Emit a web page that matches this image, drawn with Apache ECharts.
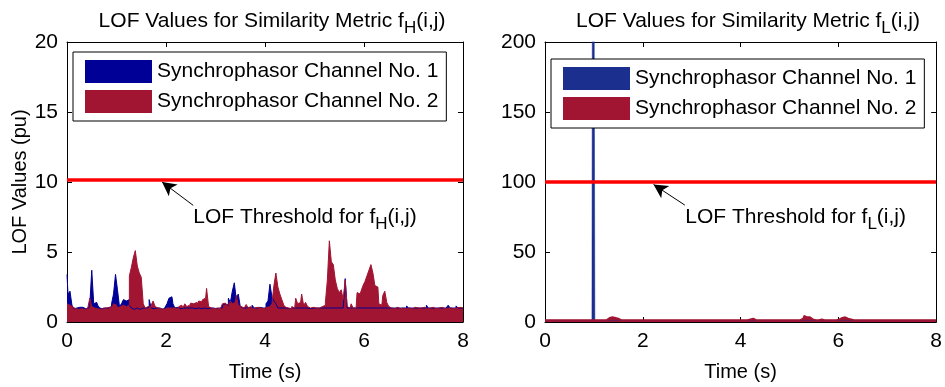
<!DOCTYPE html>
<html>
<head>
<meta charset="utf-8">
<script src="https://cdn.jsdelivr.net/npm/echarts@6/dist/echarts.min.js"></script>
<style>
  html, body { margin: 0; padding: 0; background: #fff; }
  #chart { width: 945px; height: 387px; }
</style>
</head>
<body>
<div id="chart"></div>
<script>
// Sampling instants of the LOF series (s), one value every 0.04 s from 0 to 8 s
const sampleStep = 0.04;
const sampleCount = 201;

// LOF values for similarity metric f_H(i,j)
const lofH_ch1 = [
  3.4, 2.0, 2.2, 1.2, 0.95, 1.0, 1.05, 1.0, 1.05, 0.95,
  1.05, 1.0, 1.2, 3.7, 1.3, 1.4, 1.2, 1.0, 0.95, 1.0,
  0.95, 1.0, 1.1, 1.3, 2.0, 3.4, 2.3, 1.1, 1.3, 1.6,
  1.5, 1.6, 1.2, 1.0, 0.9, 1.0, 0.95, 0.9, 1.0, 0.95,
  1.0, 1.05, 1.6, 1.0, 0.95, 1.0, 0.95, 1.0, 0.9, 0.95,
  1.05, 1.3, 1.7, 1.8, 1.3, 1.0, 1.05, 0.95, 1.0, 1.0,
  1.0, 0.95, 1.0, 1.0, 1.0, 0.95, 1.0, 1.0, 0.95, 1.0,
  1.0, 0.95, 1.0, 1.0, 1.0, 0.95, 1.0, 1.0, 1.0, 1.2,
  1.3, 1.2, 1.7, 1.4, 2.2, 2.8, 1.6, 2.0, 1.1, 1.0,
  1.0, 1.0, 1.05, 1.0, 1.2, 1.0, 1.0, 1.05, 0.95, 1.0,
  1.0, 1.3, 1.5, 2.7, 1.8, 1.5, 1.3, 1.0, 1.0, 1.0,
  1.0, 1.0, 0.95, 1.0, 1.0, 1.0, 1.0, 1.0, 1.0, 1.0,
  1.0, 1.0, 1.0, 0.95, 1.0, 1.0, 1.0, 1.0, 1.0, 1.0,
  1.0, 1.0, 1.0, 1.0, 1.0, 1.0, 1.0, 1.0, 1.0, 1.0,
  1.0, 3.1, 1.0, 1.0, 1.0, 1.0, 1.0, 1.0, 1.0, 1.0,
  1.0, 1.0, 1.0, 1.0, 1.0, 1.0, 1.0, 1.0, 1.0, 1.0,
  1.0, 1.0, 1.0, 1.05, 1.0, 1.0, 1.0, 1.0, 1.0, 1.0,
  1.0, 1.0, 1.15, 1.0, 1.0, 1.0, 1.0, 1.0, 1.0, 1.0,
  1.0, 1.0, 1.2, 1.0, 1.0, 1.0, 1.0, 1.0, 1.0, 1.0,
  1.0, 1.0, 1.0, 1.2, 1.0, 1.0, 1.0, 1.15, 1.0, 1.0, 1.0
];
const lofH_ch2 = [
  1.3, 1.2, 1.1, 1.05, 0.95, 1.0, 0.9, 0.95, 1.0, 0.9,
  1.0, 0.95, 1.7, 1.1, 1.0, 0.95, 1.05, 0.9, 1.0, 0.95,
  1.0, 1.05, 0.95, 1.1, 1.3, 1.2, 1.0, 1.1, 1.2, 1.15,
  1.1, 1.2, 3.3, 3.9, 4.6, 5.1, 4.0, 3.5, 3.2, 1.3,
  1.0, 1.1, 1.05, 1.2, 1.5, 1.1, 1.0, 0.95, 1.0, 0.9,
  1.0, 0.95, 1.0, 1.0, 0.9, 1.0, 0.95, 1.1, 1.2, 1.0,
  1.3, 1.1, 1.2, 1.35, 1.3, 1.4, 1.2, 1.5, 1.45, 1.6,
  1.7, 2.4, 1.1, 1.0, 0.95, 1.0, 1.0, 0.95, 1.05, 1.3,
  1.35, 1.2, 1.3, 1.5, 1.3, 1.4, 1.9, 1.2, 1.1, 1.0,
  1.05, 1.25, 1.0, 1.1, 0.95, 1.0, 1.05, 1.0, 1.0, 0.95,
  1.0, 1.05, 1.1, 1.0, 1.3, 2.6, 3.5, 2.5, 2.0, 1.6,
  1.2, 1.05, 1.0, 0.95, 1.1, 1.0, 1.7, 1.3, 1.4, 2.0,
  1.2, 1.4, 1.1, 1.0, 1.05, 0.95, 1.0, 1.0, 0.95, 1.1,
  1.2, 1.4, 3.0, 5.8, 4.3, 4.1, 3.0, 2.4, 2.1, 2.3,
  1.6, 3.0, 1.1, 1.0, 1.3, 1.0, 1.0, 2.1, 2.0, 2.2,
  2.6, 2.9, 3.3, 3.7, 4.1, 3.5, 2.6, 2.5, 1.3, 1.2,
  1.9, 2.2, 1.4, 1.1, 1.0, 0.95, 1.0, 1.05, 0.95, 1.0,
  1.0, 0.95, 1.05, 1.0, 0.95, 1.0, 1.05, 1.0, 0.95, 1.0,
  1.05, 1.0, 0.95, 1.0, 1.0, 1.05, 0.95, 1.0, 1.0, 1.05,
  1.0, 0.95, 1.0, 1.05, 1.0, 0.95, 1.0, 1.0, 1.05, 1.0, 1.0
];

// LOF values for similarity metric f_L(i,j)
const lofL_ch1 = [
  1.2, 1.2, 1.2, 1.2, 1.2, 1.2, 1.2, 1.2, 1.2, 1.2,
  1.2, 1.2, 1.2, 1.2, 1.2, 1.2, 1.2, 1.2, 1.2, 1.2,
  1.2, 1.2, 1.2, 1.2, 1.2, 620, 1.2, 1.2, 1.2, 1.2,
  1.2, 1.2, 1.2, 1.2, 1.2, 1.2, 1.2, 1.2, 1.2, 1.2,
  1.2, 1.2, 1.2, 1.2, 1.2, 1.2, 1.2, 1.2, 1.2, 1.2,
  1.2, 1.2, 1.2, 1.2, 1.2, 1.2, 1.2, 1.2, 1.2, 1.2,
  1.2, 1.2, 1.2, 1.2, 1.2, 1.2, 1.2, 1.2, 1.2, 1.2,
  1.2, 1.2, 1.2, 1.2, 1.2, 1.2, 1.2, 1.2, 1.2, 1.2,
  1.2, 1.2, 1.2, 1.2, 1.2, 1.2, 1.2, 1.2, 1.2, 1.2,
  1.2, 1.2, 1.2, 1.2, 1.2, 1.2, 1.2, 1.2, 1.2, 1.2,
  1.2, 1.2, 1.2, 1.2, 1.2, 1.2, 1.2, 1.2, 1.2, 1.2,
  1.2, 1.2, 1.2, 1.2, 1.2, 1.2, 1.2, 1.2, 1.2, 1.2,
  1.2, 1.2, 1.2, 1.2, 1.2, 1.2, 1.2, 1.2, 1.2, 1.2,
  1.2, 1.2, 1.2, 1.2, 1.2, 1.2, 1.2, 1.2, 1.2, 1.2,
  1.2, 1.2, 1.2, 1.2, 1.2, 1.2, 1.2, 1.2, 1.2, 1.2,
  1.2, 1.2, 1.2, 1.2, 1.2, 1.2, 1.2, 1.2, 1.2, 1.2,
  1.2, 1.2, 1.2, 1.2, 1.2, 1.2, 1.2, 1.2, 1.2, 1.2,
  1.2, 1.2, 1.2, 1.2, 1.2, 1.2, 1.2, 1.2, 1.2, 1.2,
  1.2, 1.2, 1.2, 1.2, 1.2, 1.2, 1.2, 1.2, 1.2, 1.2,
  1.2, 1.2, 1.2, 1.2, 1.2, 1.2, 1.2, 1.2, 1.2, 1.2, 1.2
];
const lofL_ch2 = [
  1.5, 1.5, 1.5, 1.5, 1.5, 1.5, 1.5, 1.5, 1.5, 1.5,
  1.5, 1.5, 1.5, 1.5, 1.5, 1.5, 1.5, 1.5, 1.5, 1.5,
  1.5, 1.5, 1.5, 1.5, 1.5, 1.5, 1.5, 1.5, 1.5, 1.5,
  1.5, 1.5, 2.5, 3.0, 3.5, 4.0, 3.0, 2.5, 2.5, 1.5,
  1.5, 1.5, 1.5, 1.5, 1.5, 1.5, 1.5, 1.5, 1.5, 1.5,
  1.5, 1.5, 1.5, 1.5, 1.5, 1.5, 1.5, 1.5, 1.5, 1.5,
  1.5, 1.5, 1.5, 1.5, 1.5, 1.5, 1.5, 1.5, 1.5, 1.5,
  1.5, 1.5, 1.5, 1.5, 1.5, 1.5, 1.5, 1.5, 1.5, 1.5,
  1.5, 1.5, 1.5, 1.5, 1.5, 1.5, 1.5, 1.5, 1.5, 1.5,
  1.5, 1.5, 1.5, 1.5, 1.5, 1.5, 1.5, 1.5, 1.5, 1.5,
  1.5, 1.5, 1.5, 1.5, 1.5, 2.0, 2.5, 2.0, 1.5, 1.5,
  1.5, 1.5, 1.5, 1.5, 1.5, 1.5, 1.5, 1.5, 1.5, 1.5,
  1.5, 1.5, 1.5, 1.5, 1.5, 1.5, 1.5, 1.5, 1.5, 1.5,
  1.5, 1.5, 2.5, 4.5, 3.5, 3.5, 2.5, 2.0, 1.5, 1.5,
  1.5, 2.0, 1.5, 1.5, 1.5, 1.5, 1.5, 1.5, 1.5, 1.5,
  2.0, 2.5, 3.0, 3.5, 3.0, 2.5, 2.0, 2.0, 1.5, 1.5,
  1.5, 1.5, 1.5, 1.5, 1.5, 1.5, 1.5, 1.5, 1.5, 1.5,
  1.5, 1.5, 1.5, 1.5, 1.5, 1.5, 1.5, 1.5, 1.5, 1.5,
  1.5, 1.5, 1.5, 1.5, 1.5, 1.5, 1.5, 1.5, 1.5, 1.5,
  1.5, 1.5, 1.5, 1.5, 1.5, 1.5, 1.5, 1.5, 1.5, 1.5, 1.5
];

// Detection thresholds
const thresholdH = 10.15;
const thresholdL = 100;

// Axis ticks
const xTicks = { min: 0, max: 8, interval: 2 };
const yTicksH = { min: 0, max: 20, interval: 5 };
const yTicksL = { min: 0, max: 200, interval: 50 };

const channelNames = ['Synchrophasor Channel No. 1', 'Synchrophasor Channel No. 2'];

const time = Array.from({ length: sampleCount }, (_, i) => +(i * sampleStep).toFixed(2));
const pairs = (vals) => vals.map((v, i) => [time[i], v]);

const FONT = 'Liberation Sans, Arial, Helvetica, sans-serif';
const BLUE_H = '#000096';
const BLUE_L = '#1a2f8e';
const RED = '#a21532';

function frameAxes(gridIndex, isX) {
  const common = {
    gridIndex,
    axisLine: { show: true, onZero: false, lineStyle: { color: '#000', width: 1 } },
    axisTick: { show: true, inside: true, length: 5, lineStyle: { color: '#000' } },
    splitLine: { show: false },
    axisLabel: { show: false }
  };
  return isX
    ? Object.assign({ type: 'value', position: 'top' }, xTicks, common)
    : common;
}

function bottomAxis(gridIndex) {
  return Object.assign({
    type: 'value', gridIndex, position: 'bottom',
    name: 'Time (s)', nameLocation: 'middle', nameGap: 40,
    nameTextStyle: { fontFamily: FONT, fontSize: 20, color: '#000' },
    axisLine: { show: true, onZero: false, lineStyle: { color: '#000', width: 1 } },
    axisTick: { show: true, inside: true, length: 5, lineStyle: { color: '#000' } },
    splitLine: { show: false },
    axisLabel: { fontFamily: FONT, fontSize: 21, color: '#000', margin: 9 }
  }, xTicks);
}

function leftAxis(gridIndex, ticks, name) {
  return Object.assign({
    type: 'value', gridIndex, position: 'left',
    name: name || '', nameLocation: 'middle', nameGap: 37, nameRotate: 90,
    nameTextStyle: { fontFamily: FONT, fontSize: 20, color: '#000' },
    axisLine: { show: true, onZero: false, lineStyle: { color: '#000', width: 1 } },
    axisTick: { show: true, inside: true, length: 5, lineStyle: { color: '#000' } },
    splitLine: { show: false },
    axisLabel: { fontFamily: FONT, fontSize: 21, color: '#000', margin: 9 }
  }, ticks);
}

function rightAxis(gridIndex, ticks) {
  return Object.assign({
    type: 'value', gridIndex, position: 'right',
    axisLine: { show: true, onZero: false, lineStyle: { color: '#000', width: 1 } },
    axisTick: { show: true, inside: true, length: 5, lineStyle: { color: '#000' } },
    splitLine: { show: false },
    axisLabel: { show: false }
  }, ticks);
}

function lofSeries(name, vals, color, axisIdx, edgeWidth) {
  return {
    name, type: 'line', xAxisIndex: axisIdx, yAxisIndex: axisIdx,
    data: pairs(vals), step: 'middle', showSymbol: false, symbol: 'none',
    color, lineStyle: { color, width: edgeWidth },
    areaStyle: { color, opacity: 1 },
    clip: true, silent: true
  };
}

const richText = {
  m: { fontFamily: FONT, fontSize: 21, fontWeight: 'normal', color: '#000' },
  s: { fontFamily: FONT, fontSize: 17, fontWeight: 'normal', color: '#000', padding: [14, 0, 0, 0] }
};

function thresholdSeries(value, axisIdx, arrowFrom, arrowTo, textAt, sub) {
  return {
    name: 'threshold', type: 'line', xAxisIndex: axisIdx, yAxisIndex: axisIdx,
    data: [[xTicks.min, value], [xTicks.max, value]],
    showSymbol: false, symbol: 'none', silent: true,
    lineStyle: { color: '#ff0000', width: 3.5 },
    markLine: {
      silent: true, symbol: ['none', 'arrow'], symbolSize: [11, 14],
      lineStyle: { color: '#000', width: 1, type: 'solid' },
      label: { show: false },
      data: [[{ coord: arrowFrom }, { coord: arrowTo }]]
    },
    markPoint: {
      silent: true, symbol: 'circle', symbolSize: 0,
      data: [{ coord: textAt }],
      label: {
        show: true, position: 'right', distance: 0,
        formatter: '{m|LOF Threshold for f}{s|' + sub + '}{m|(i,j)}',
        rich: richText
      }
    }
  };
}

function titleFor(sub, centerX) {
  return {
    text: '{m|LOF Values for Similarity Metric f}{s|' + sub + '}{m|(i,j)}',
    left: centerX, top: 1, textAlign: 'center',
    textStyle: { fontWeight: 'normal', rich: richText }
  };
}

function legendFor(left, top, blue) {
  return {
    left, top, orient: 'vertical', icon: 'rect',
    itemWidth: 67, itemHeight: 23, itemGap: 7,
    padding: [8, 8, 8, 12],
    backgroundColor: '#fff', borderColor: '#000', borderWidth: 1,
    selectedMode: false,
    textStyle: { fontFamily: FONT, fontSize: 21, color: '#000' },
    data: [
      { name: channelNames[0], itemStyle: { color: blue } },
      { name: channelNames[1], itemStyle: { color: RED } }
    ]
  };
}

const chart = echarts.init(document.getElementById('chart'), null, { renderer: 'canvas' });
chart.setOption({
  animation: false,
  backgroundColor: '#fff',
  title: [titleFor('H', 267), titleFor('L', 743)],
  legend: [legendFor(73, 52, BLUE_H), legendFor(551, 59, BLUE_L)],
  grid: [
    { left: 67, top: 42, width: 396, height: 285 },
    { left: 545, top: 42, width: 397, height: 284 }
  ],
  xAxis: [bottomAxis(0), frameAxes(0, true), bottomAxis(1), frameAxes(1, true)],
  yAxis: [
    leftAxis(0, yTicksH, 'LOF Values (pu)'), rightAxis(0, yTicksH),
    leftAxis(1, yTicksL, ''), rightAxis(1, yTicksL)
  ],
  series: [
    lofSeries(channelNames[0], lofH_ch1, BLUE_H, 0, 1),
    lofSeries(channelNames[1], lofH_ch2, RED, 0, 1),
    thresholdSeries(thresholdH, 0, [2.55, 8.33], [1.92, 10.0], [2.55, 7.5], 'H'),
    lofSeries(channelNames[0], lofL_ch1, BLUE_L, 2, 0.5),
    lofSeries(channelNames[1], lofL_ch2, RED, 2, 1.5),
    thresholdSeries(thresholdL, 2, [2.86, 83.5], [2.22, 98.2], [2.87, 75.1], 'L')
  ]
});
</script>
</body>
</html>
